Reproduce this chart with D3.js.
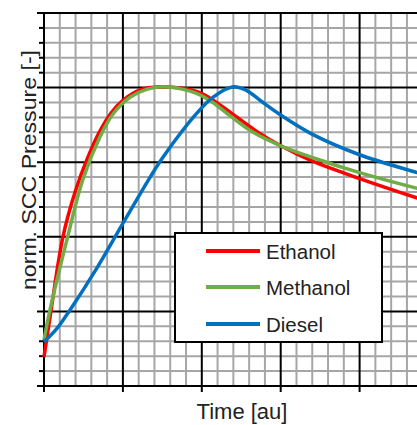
<!DOCTYPE html>
<html><head><meta charset="utf-8">
<script src="https://cdn.jsdelivr.net/npm/d3@7"></script>
<style>body{margin:0;background:#fff;overflow:hidden}svg{display:block}text{font-family:"Liberation Sans",Arial,sans-serif;fill:#222}</style>
</head><body>
<svg id="c" width="417" height="425"></svg>
<script>
const timeE = [0,0.09,0.24,0.40,0.55,0.70,0.85,1.00,1.22,1.47,1.75,2.00,2.20,2.45,2.70,3.00,3.41,4.00,4.73,4.85];
const ethanol = [0.39,1.02,2.00,2.62,3.05,3.40,3.66,3.83,3.97,4.01,3.99,3.92,3.79,3.60,3.41,3.22,3.01,2.78,2.52,2.48];
const timeM = [0,0.076,0.30,0.49,0.71,0.87,1.09,1.31,1.51,1.75,1.94,2.14,2.36,2.65,3.00,3.41,4.00,4.73,4.85];
const methanol = [0.62,1.02,2.00,2.76,3.34,3.64,3.87,3.98,4.01,3.98,3.92,3.80,3.62,3.40,3.22,3.06,2.86,2.65,2.62];
const timeD = [0,0.17,0.33,0.67,1.00,1.34,1.51,1.94,2.14,2.40,2.57,2.75,2.99,3.41,4.00,4.73,4.85];
const diesel = [0.59,0.78,1.02,1.58,2.18,2.79,3.07,3.66,3.87,4.01,3.96,3.82,3.64,3.37,3.10,2.86,2.82];
const seriesNames = ["Ethanol","Methanol","Diesel"];
const seriesColors = ["#ff0000","#70ad47","#0070c0"];
const xTicks = [0,1,2,3,4,5];
const yTicks = [0,1,2,3,4,5];
const xLabel = "Time [au]";
const yLabel = "norm. SCC Pressure [-]";

const svg = d3.select("#c");
const L=44, T=13, B=386, unitX=78.9;
const x = d3.scaleLinear().domain([0,5]).range([L, L+5*unitX]);
const y = d3.scaleLinear().domain([0,5]).range([B, T]);
const minor = d3.range(0,5.001,0.2).map(v=>+v.toFixed(2));

const g = svg.append("g");
g.selectAll("line.mx").data(minor.filter(v=>!xTicks.includes(v))).join("line")
 .attr("x1",d=>x(d)).attr("x2",d=>x(d)).attr("y1",T).attr("y2",B)
 .attr("stroke","#a6a6a6").attr("stroke-width",2);
g.selectAll("line.my").data(minor.filter(v=>!yTicks.includes(v))).join("line")
 .attr("y1",d=>y(d)).attr("y2",d=>y(d)).attr("x1",L).attr("x2",x(5))
 .attr("stroke","#a6a6a6").attr("stroke-width",2);
g.selectAll("line.mty").data(minor.filter(v=>!yTicks.includes(v))).join("line")
 .attr("y1",d=>y(d)).attr("y2",d=>y(d)).attr("x1",L-5).attr("x2",L)
 .attr("stroke","#000").attr("stroke-width",2);
g.selectAll("line.Mx").data(xTicks).join("line")
 .attr("x1",d=>x(d)).attr("x2",d=>x(d)).attr("y1",T).attr("y2",B+6)
 .attr("stroke","#000").attr("stroke-width",2);
g.selectAll("line.My").data(yTicks).join("line")
 .attr("y1",d=>y(d)).attr("y2",d=>y(d)).attr("x1",L-7).attr("x2",x(5))
 .attr("stroke","#000").attr("stroke-width",2);

const line = d3.line().curve(d3.curveCatmullRom.alpha(0.5));
const data = [[timeE,ethanol],[timeM,methanol],[timeD,diesel]];
data.forEach((s,i)=>{
  svg.append("path").attr("d", line(s[0].map((t,j)=>[x(t), y(s[1][j])])))
   .attr("fill","none").attr("stroke",seriesColors[i]).attr("stroke-width",3.5)
   .attr("stroke-linejoin","round");
});

const lg = svg.append("g");
lg.append("rect").attr("x",175).attr("y",233).attr("width",207).attr("height",109)
  .attr("fill","#fff").attr("stroke","#000").attr("stroke-width",2);
const ly = [251,287,324];
seriesNames.forEach((n,i)=>{
  lg.append("line").attr("x1",206).attr("x2",260).attr("y1",ly[i]).attr("y2",ly[i])
    .attr("stroke",seriesColors[i]).attr("stroke-width",4);
  lg.append("text").attr("x",266).attr("y",ly[i]+7.5).attr("font-size",20.5).text(n);
});

svg.append("text").attr("x",242).attr("y",419).attr("text-anchor","middle")
  .attr("font-size",22).text(xLabel);
svg.append("text").attr("transform","translate(36,170) rotate(-90)").attr("text-anchor","middle")
  .attr("font-size",20).attr("textLength",240).attr("lengthAdjust","spacingAndGlyphs").text(yLabel);
</script>
</body></html>
